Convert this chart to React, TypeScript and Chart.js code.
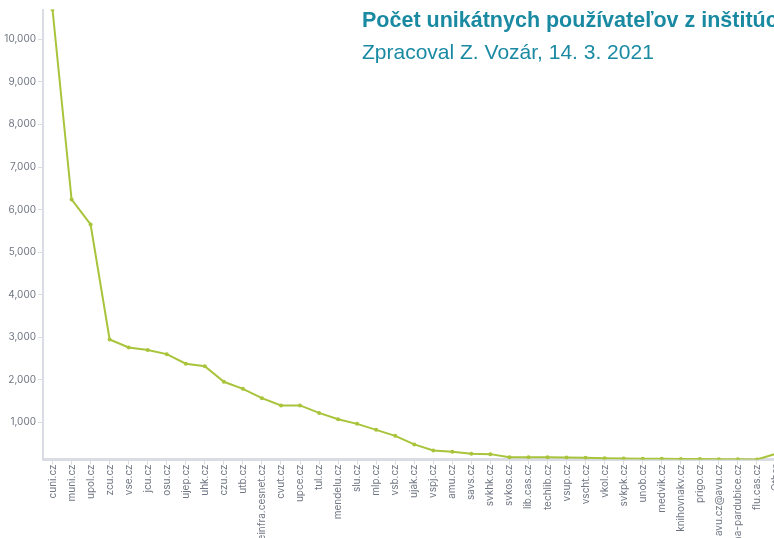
import React, { useEffect, useRef } from "react";
import { Chart, registerables } from "chart.js";

Chart.register(...registerables);

const TITLE = "Počet unikátnych používateľov z inštitúcií";
const SUBTITLE = "Zpracoval Z. Vozár, 14. 3. 2021";

const categories: string[] = [
  "cuni.cz", "muni.cz", "upol.cz", "zcu.cz", "vse.cz", "jcu.cz", "osu.cz", "ujep.cz",
  "uhk.cz", "czu.cz", "utb.cz", "einfra.cesnet.cz", "cvut.cz", "upce.cz", "tul.cz",
  "mendelu.cz", "slu.cz", "mlp.cz", "vsb.cz", "ujak.cz", "vspj.cz", "amu.cz", "savs.cz",
  "svkhk.cz", "svkos.cz", "lib.cas.cz", "techlib.cz", "vsup.cz", "vscht.cz", "vkol.cz",
  "svkpk.cz", "unob.cz", "medvik.cz", "knihovnakv.cz", "prigo.cz", "avu.cz@avu.cz",
  "na-pardubice.cz", "flu.cas.cz", "Other",
];

const users: number[] = [
  10700, 6240, 5650, 2950, 2760, 2700, 2605, 2380,
  2320, 1955, 1790, 1570, 1400, 1400, 1225,
  1077, 967, 826, 685, 484, 343, 310, 263,
  256, 185, 183, 180, 176, 172, 162,
  155, 150, 146, 143, 140, 137,
  134, 130, 265,
];

const yTicks: number[] = [1000, 2000, 3000, 4000, 5000, 6000, 7000, 8000, 9000, 10000];

const LINE_COLOR = "#a8c43a";
const TEXT_GRAY = "#6f7582";
const AXIS_GRAY = "#d9dce2";
const TITLE_COLOR = "#1a8aa3";

export default function App() {
  const ref = useRef<HTMLCanvasElement | null>(null);

  useEffect(() => {
    if (!ref.current) return;
    const chart = new Chart(ref.current, {
      type: "line",
      data: {
        labels: categories,
        datasets: [
          {
            data: users,
            borderColor: LINE_COLOR,
            backgroundColor: LINE_COLOR,
            borderWidth: 2,
            pointRadius: 2,
            pointHoverRadius: 2,
            pointBorderWidth: 0,
            tension: 0,
          },
        ],
      },
      options: {
        animation: false,
        responsive: false,
        maintainAspectRatio: false,
        layout: { padding: { top: 9.5, right: 0, left: 0, bottom: 0 } },
        plugins: { legend: { display: false }, tooltip: { enabled: false }, title: { display: false } },
        scales: {
          x: {
            type: "category",
            offset: true,
            afterFit: (s: any) => { s.height = 78.5; },
            border: { display: true, color: AXIS_GRAY, width: 3 },
            grid: { display: true, drawOnChartArea: false, drawTicks: true, tickLength: 5, color: AXIS_GRAY, offset: false },
            ticks: {
              autoSkip: false,
              maxRotation: 90,
              minRotation: 90,
              padding: 0,
              color: TEXT_GRAY,
              font: { family: "Inter, 'Open Sans', sans-serif", size: 10 },
            },
          },
          y: {
            type: "linear",
            min: Math.min(...users),
            max: Math.max(...users),
            afterFit: (s: any) => { s.width = 43; },
            afterBuildTicks: (s: any) => { s.ticks = yTicks.map((v) => ({ value: v })); },
            border: { display: true, color: AXIS_GRAY, width: 2 },
            grid: { display: true, drawOnChartArea: false, drawTicks: true, tickLength: 5, color: AXIS_GRAY },
            ticks: {
              padding: 2,
              color: TEXT_GRAY,
              font: { family: "Inter, 'Open Sans', sans-serif", size: 10 },
            },
          },
        },
      },
    });
    return () => chart.destroy();
  }, []);

  return (
    <div style={{ position: "fixed", left: 0, top: 0, width: 774, height: 538, overflow: "hidden", background: "#fff" }}>
      <canvas ref={ref} width={788} height={538} style={{ position: "absolute", left: 0, top: 0, width: 788, height: 538 }} />
      <div
        style={{
          position: "absolute",
          left: 362,
          top: 5,
          whiteSpace: "nowrap",
          fontFamily: "'Liberation Sans', Arial, sans-serif",
          color: TITLE_COLOR,
          fontSize: 21,
          lineHeight: "31px",
        }}
      >
        <div style={{ fontWeight: "bold", fontSize: 21.5 }}>{TITLE}</div>
        <div>{SUBTITLE}</div>
      </div>
    </div>
  );
}
